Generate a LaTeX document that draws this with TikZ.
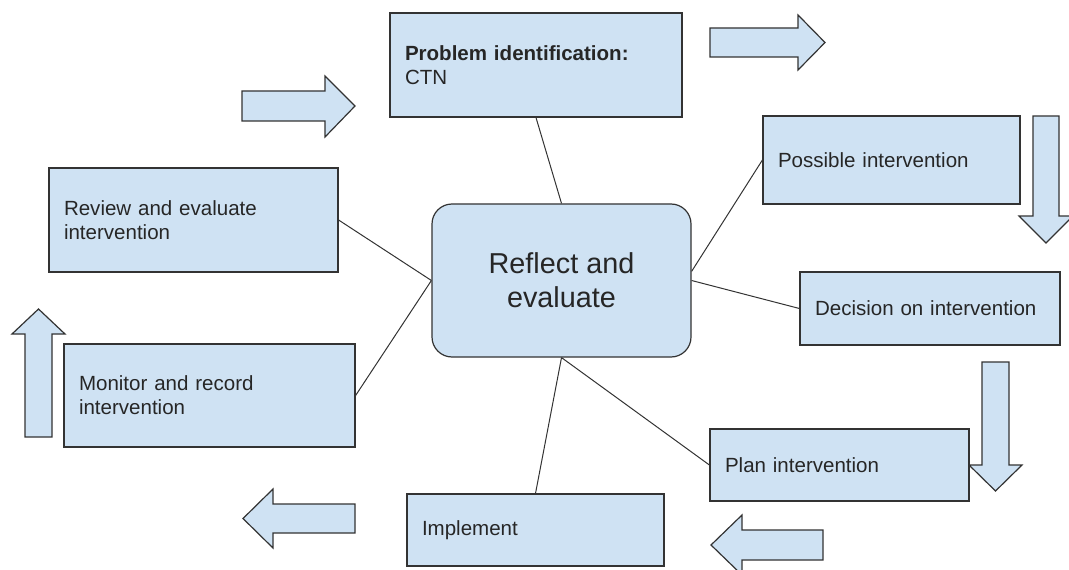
\documentclass[tikz,border=0pt]{standalone}
\usepackage{fontspec}
\setmainfont{Liberation Sans}
\definecolor{boxfill}{HTML}{CFE2F3}
\definecolor{edge}{HTML}{333333}
\begin{document}
\begin{tikzpicture}[x=0.75pt,y=-0.75pt,
  box/.style={draw=edge, fill=boxfill, line width=0.9pt, rectangle, inner xsep=11.25pt, inner ysep=0pt,
    align=left, font=\fontsize{15.4}{18}\selectfont, text=black!85},
  bigbox/.style={draw=edge, fill=boxfill, line width=0.9pt, rectangle, rounded corners=15pt, align=center,
    font=\fontsize{21.6}{25.5}\selectfont, text=black!85, minimum width=194.25pt, minimum height=114.75pt},
  link/.style={draw=edge, line width=0.75pt},
  bigarrow/.style={draw=edge, fill=boxfill, line width=0.9pt, line join=miter}]
\useasboundingbox (0,0) rectangle (1069,570);

% arrows
\path[bigarrow] (242,91) -- (325,91) -- (325,76) -- (355,106) -- (325,137) -- (325,121) -- (242,121) -- cycle;
\path[bigarrow] (710,28) -- (798,28) -- (798,15) -- (825,42.5) -- (798,70) -- (798,57) -- (710,57) -- cycle;
\path[bigarrow] (1033,116) -- (1059,116) -- (1059,216) -- (1073,216) -- (1046,243) -- (1019,216) -- (1033,216) -- cycle;
\path[bigarrow] (982,362) -- (1009,362) -- (1009,465) -- (1022,465) -- (995.5,491) -- (969,465) -- (982,465) -- cycle;
\path[bigarrow] (823,530) -- (742,530) -- (742,515) -- (711,545) -- (742,575) -- (742,560) -- (823,560) -- cycle;
\path[bigarrow] (355,504) -- (273,504) -- (273,489) -- (243,518.5) -- (273,548) -- (273,533) -- (355,533) -- cycle;
\path[bigarrow] (25,437) -- (25,334) -- (12,334) -- (38.5,309) -- (65,334) -- (52,334) -- (52,437) -- cycle;

% boxes
\node[bigbox] (R) at (561.5,280.5) {Reflect and\\evaluate};
\node[box, text width=196.5pt, minimum height=78pt] (A) at (536,65) {\textbf{Problem identification:}\\CTN};
\node[box, text width=170.25pt, minimum height=66pt] (B) at (891.5,160) {Possible intervention};
\node[box, text width=172.5pt, minimum height=54.75pt] (C) at (930,308.5) {Decision on intervention};
\node[box, text width=171.75pt, minimum height=54pt] (D) at (839.5,465) {Plan intervention};
\node[box, text width=170.25pt, minimum height=54pt] (E) at (535.5,530) {Implement};
\node[box, text width=195.75pt, minimum height=77.25pt] (F) at (209.5,395.5) {Monitor and record\\intervention};
\node[box, text width=194.25pt, minimum height=78pt] (G) at (193.5,220) {Review and evaluate\\intervention};

% connectors
\draw[link] (A.south) -- (R.north);
\draw[link] (B.west) -- (R.4);
\draw[link] (R.east) -- (C.west);
\draw[link] (R.south) -- (D.west);
\draw[link] (R.south) -- (E.north);
\draw[link] (G.east) -- (R.west);
\draw[link] (R.west) -- (F.east);
\end{tikzpicture}
\end{document}
